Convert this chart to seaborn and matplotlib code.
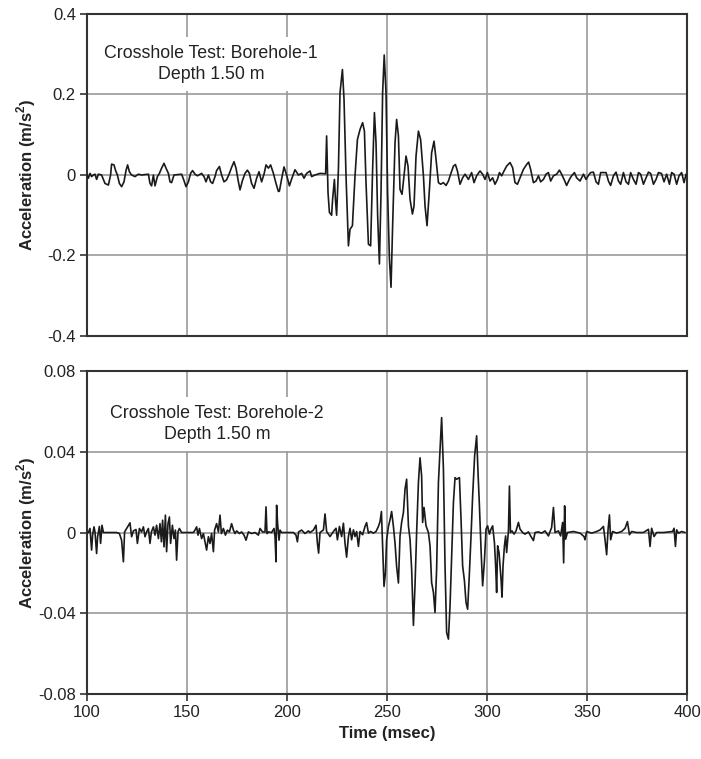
import matplotlib
matplotlib.use('Agg')
import matplotlib.pyplot as plt
import seaborn as sns
from matplotlib.ticker import FuncFormatter

# Borehole-1 trace (time in msec, acceleration in m/s2)
t1 = [100, 100.7, 101.5, 102.3, 103.2, 104, 104.8, 105.7, 107.3, 109, 110.7, 111.8, 112.3, 113.5, 114.3,
      115.2, 116.2, 117.3, 118.5, 119.5, 120.3, 121.2, 122.3, 124, 125.7, 127.3, 130.7, 131.5, 132.3,
      133.2, 134, 135.2, 136.2, 137.3, 138.5, 139.5, 140.7, 141.5, 142.3, 143.5, 147.3, 148.5, 149.5,
      150.7, 151.8, 152.8, 154, 155.2, 157.3, 158.5, 159.5, 160.7, 161.8, 162.8, 164, 164.8, 166.2,
      167.3, 168.5, 169.8, 171.2, 172.3, 173.5, 174.5, 175.7, 176.5, 177.7, 179, 180.2, 181.2, 182.3,
      183.5, 184.8, 186, 187.3, 188.5, 189.5, 190.7, 191.8, 193.2, 194.5, 195.7, 196.2, 197.3, 198.5,
      199.8, 201.2, 202.3, 204, 205.7, 207.3, 208.5, 209.8, 211.5, 212.3, 214, 216.5, 219.3,
      219.8, 220.5, 221.2, 222.3, 222.8, 223.7, 224.2, 224.8, 225.7, 226.5, 227.7, 228.5, 229.5,
      230.7, 231.5, 232.7, 234, 235.2, 236.5, 237.8, 238.7, 239.5, 240.7, 241.8, 242.8, 243.7,
      244.5, 245.3, 246.2, 247, 247.8, 248.6, 249.5, 250.3, 251.2, 252, 252.8, 254, 254.8, 255.7,
      256.5, 257.5, 258.5, 259.5, 260.5, 261.5, 262.7, 263.5, 264.5, 265.7, 266.8, 268.2, 269,
      270, 271.2, 272.3, 273.5, 274.5, 275.7, 276.8, 278.2, 279.5, 280.7, 281.8, 283.2, 284.2,
      285.2, 286.5, 287.8, 289, 290.7, 292.3, 293.5, 294.8, 296.5, 297.8, 299, 300.2, 301.5,
      302.8, 304, 305.2, 306.2, 307.3, 308.5, 309.8, 311.5, 312.8, 314, 315.2, 316.5, 318.2,
      319.8, 320.8, 321.8, 323.2, 324.5, 325.7, 326.8, 328.2, 329.5, 330.7, 331.8, 333.2, 334.8,
      336.2, 337.3, 338.5, 339.8, 341.2, 342.3, 343.7, 344.8, 346.5, 348.2, 349.5, 350.7, 351.8,
      353.2, 354.5, 355.7, 356.8, 358.2, 359.5, 360.7, 361.8, 363.2, 364.5, 365.7, 366.8, 368.2,
      369.5, 370.7, 371.8, 373.2, 374.5, 375.7, 376.8, 378.2, 379.5, 380.7, 381.8, 383.2, 384.5,
      385.7, 387.2, 388.5, 389.8, 391.2, 392.3, 393.5, 394.8, 396, 397.3, 398.5, 399.5]
a1 = [0.0, -0.008, 0.004, -0.004, 0.0, 0.002, -0.011, 0.002, 0.0, -0.021, -0.025, 0.0, 0.027, 0.025,
      0.011, 0.0, -0.021, -0.029, -0.017, 0.011, 0.025, 0.008, 0.0, -0.004, 0.002, 0.0, 0.002, -0.021,
      -0.027, 0.0, -0.027, -0.004, 0.004, 0.017, 0.029, 0.017, 0.004, -0.017, -0.019, 0.0, 0.002,
      -0.014, -0.029, -0.017, 0.004, 0.011, 0.002, -0.002, 0.004, -0.004, -0.017, 0.0, -0.017, -0.021,
      -0.004, 0.011, 0.021, 0.0, -0.017, -0.012, 0.004, 0.019, 0.033, 0.017, -0.017, -0.037, -0.014,
      0.004, 0.012, 0.004, -0.021, -0.033, -0.008, 0.008, -0.017, 0.002, 0.025, 0.017, 0.025, 0.004,
      -0.021, -0.041, -0.040, -0.010, 0.020, 0.0, -0.027, -0.010, 0.013, 0.0, 0.004, -0.008, 0.004,
      0.010, -0.004, 0.0, 0.004, 0.003,
      0.097, -0.044, -0.093, -0.100, -0.060, -0.011, -0.060, -0.100, 0.014, 0.204, 0.262, 0.188, -0.002,
      -0.176, -0.135, -0.126, -0.002, 0.088, 0.113, 0.130, 0.109, -0.019, -0.172, -0.176, 0.014, 0.155,
      0.080, -0.100, -0.221, -0.044, 0.204, 0.298, 0.204, -0.044, -0.209, -0.279, -0.126, 0.080, 0.138,
      0.097, -0.036, -0.048, -0.002, 0.047, 0.022, -0.060, -0.097, -0.077, 0.047, 0.109, 0.088, -0.002,
      -0.077, -0.126, -0.036, 0.055, 0.084, 0.039, -0.019, -0.023, -0.019, -0.026, -0.015, 0.002,
      0.022, 0.026, 0.010, -0.023, -0.007, 0.002, -0.011, 0.006, -0.019, -0.002, 0.010, 0.002, -0.011,
      0.006, -0.015, -0.007, -0.023, -0.011, 0.006, -0.002, 0.010, 0.022, 0.031, 0.018, -0.019, -0.023,
      -0.007, 0.014, 0.026, 0.032, 0.014, -0.019, -0.015, -0.002, -0.017, -0.011, 0.002, 0.006, -0.015,
      -0.002, 0.002, 0.012, 0.002, -0.011, -0.026, -0.011, -0.002, 0.006, -0.007, -0.015, 0.002,
      -0.011, -0.001, 0.006, 0.007, -0.017, -0.023, 0.006, 0.006, 0.006, -0.015, -0.026, -0.002, 0.007,
      -0.015, -0.023, 0.006, -0.017, -0.023, 0.006, -0.011, -0.023, 0.006, 0.002, -0.023, -0.007,
      0.007, 0.004, -0.023, -0.011, 0.006, 0.004, -0.017, 0.002, -0.023, 0.006, 0.002, -0.023, -0.002,
      0.006, -0.019, 0.002]

# Borehole-2 trace
t2 = [100, 100.7, 101.5, 102.3, 102.8, 103.5, 104, 104.8, 105.3, 106.2, 106.8, 107.5, 108.2, 114.8,
      116.2, 117.3, 118.2, 118.8, 119.8, 120.7, 121.5, 122.3, 123.2, 124.5, 125.2, 126.2, 127.3,
      128.2, 129, 129.8, 130.7, 131.5, 132.2, 133.2, 134, 134.8, 135.7, 136.5, 137.2, 137.8, 138.5,
      139.2, 139.8, 140.5, 141.2, 141.8, 142.7, 143.5, 144.2, 144.8, 145.5, 146.2, 147.3, 153.2,
      154, 154.8, 155.5, 156.2, 157.3, 158.2, 159, 159.8, 160.7, 161.5, 162.3, 163.2, 163.8, 164.8,
      165.7, 166.5, 167.2, 168.2, 169.2, 170.2, 171.2, 172.3, 173.2, 174, 174.8, 176.2, 177.3, 178.5,
      179.5, 180.7, 182.3, 184, 185.7, 186.5, 187.8, 189, 189.5, 190, 190.7, 192.3, 193.5, 194,
      194.5, 194.8, 195.3, 196, 196.5, 197.3, 203.2, 204.5, 205.2, 205.8, 207.3, 209, 210.7, 211.5,
      213.2, 214.5, 215.2, 215.8, 216.5, 218.2, 219, 219.8, 221.5, 223.2, 224.5, 225.2, 226.2,
      227.3, 228.2, 229, 229.8, 230.7, 231.5, 232.3, 233.2, 234, 234.8, 235.7, 236.5, 237.8, 239,
      239.8, 240.7, 241.8, 243.2, 244.5, 245.7, 246.5, 247.2, 247.8, 248.5, 249.2, 249.8, 250.7,
      251.5, 252.3, 253.2, 254, 254.8, 255.7, 256.5, 257.3, 258.2, 259, 259.8, 260.7, 261.5, 262.3,
      263.2, 264, 264.8, 265.7, 266.5, 267.3, 267.8, 268.5, 269.5, 270.7, 271.5, 272.3, 273.2, 274,
      274.8, 275.7, 276.5, 277.3, 278.2, 279, 279.8, 280.7, 281.5, 282.3, 283.2, 284, 284.8, 286.2,
      287, 287.8, 288.7, 289.5, 290.3, 291.2, 292, 292.8, 293.8, 294.8, 295.5, 296.2, 297, 297.8,
      298.7, 299.5, 300.3, 301.2, 302, 302.8, 303.7, 304.3, 304.8, 305.3, 306, 306.5, 307, 307.5,
      308, 308.7, 309.3, 309.8, 310.7, 311.2, 311.7, 312.5, 313.5, 314.5, 315.7, 316.5, 317.8, 319,
      320.7, 321.8, 323.2, 324, 325.7, 327.3, 329, 330.7, 332.3, 333.2, 334, 335.7, 336.8, 337.8,
      338.3, 338.8, 339.3, 340.2, 343.2, 346.5, 348.5, 349, 349.8, 352.3, 354.8, 356.5, 358.2, 359,
      359.8, 360.5, 361.2, 361.8, 362.8, 364.8, 367.3, 369, 370.2, 371.2, 372.3, 374.8, 378.2, 380.7,
      381.5, 382.3, 383.5, 384.8, 388.2, 392.8, 393.5, 394.2, 394.8, 395.7, 397.3, 399]
a2 = [0.0, 0.0, 0.002, -0.0087, -0.0013, 0.0028, 0.0003, -0.0104, -0.0021, 0.003, -0.0054, 0.0036,
      0.0, 0.0, -0.0005, -0.0038, -0.0145, 0.0003, 0.002, 0.0036, 0.0048, -0.0021, 0.0008, 0.0015,
      -0.0054, 0.002, 0.0003, 0.0028, -0.0021, 0.0003, 0.002, -0.0054, 0.0003, 0.0028, -0.0013, 0.0036,
      -0.003, 0.0044, -0.0046, 0.0061, -0.0071, 0.0086, -0.0095, 0.0044, 0.0077, -0.0054, 0.0036,
      -0.003, 0.0012, -0.0137, 0.0003, 0.002, 0.0, 0.0, 0.0012, 0.0028, -0.0013, 0.002, -0.003,
      -0.0005, -0.0046, -0.0087, -0.0021, -0.0054, -0.0005, -0.0095, 0.0012, 0.0044, 0.0003, 0.0086,
      -0.0005, 0.002, -0.0013, 0.0012, 0.0003, 0.0044, 0.0012, -0.0005, 0.0008, -0.0005, 0.0003,
      -0.0013, -0.0038, 0.0003, -0.0005, 0.0, -0.0013, 0.002, 0.0003, 0.0003, 0.0127, -0.0005, 0.0003,
      0.0, 0.002, -0.0021, -0.0145, 0.0135, 0.0044, -0.0038, 0.0012, 0.0, 0.0, -0.0013, -0.0046,
      0.0003, 0.0012, -0.0005, 0.0008, 0.0, 0.0012, 0.0036, -0.0054, -0.0102, 0.0, 0.0013, 0.0092,
      0.0005, -0.002, 0.0005, 0.0021, -0.0036, 0.003, -0.002, 0.0046, -0.0053, -0.0122, -0.002, 0.0021,
      -0.0036, 0.0013, -0.002, 0.0005, -0.0069, 0.0005, -0.0011, 0.003, 0.0049, -0.0003, 0.0005,
      -0.0003, 0.0005, 0.003, 0.0054, 0.0104, -0.0069, -0.0267, -0.020, -0.0036, 0.003, 0.0063, 0.0104,
      0.003, -0.0053, -0.0168, -0.025, -0.0017, 0.005, 0.0099, 0.0215, 0.0264, 0.0033, -0.0033,
      -0.018, -0.046, -0.026, 0.0, 0.0248, 0.037, 0.028, 0.005, 0.0124, 0.0033, 0.0, -0.0066, -0.0248,
      -0.0297, -0.0396, -0.018, 0.0248, 0.0413, 0.0569, 0.0314, -0.0165, -0.0495, -0.0528, -0.0363,
      -0.0116, 0.0149, 0.0272, 0.0264, 0.0272, 0.0066, -0.0165, -0.0239, -0.0347, -0.038, -0.0198,
      -0.0017, 0.018, 0.038, 0.0479, 0.0297, 0.0132, -0.0083, -0.0264, -0.014, 0.0017, 0.0033,
      -0.0008, 0.0017, 0.0033, -0.005, -0.0165, -0.0297, -0.0066, -0.0099, -0.0165, -0.023, -0.032,
      -0.0165, -0.0066, -0.0017, -0.0099, 0.0008, 0.023, 0.0, 0.0008, -0.0008, 0.0008, 0.005, 0.0017,
      0.0, -0.0008, 0.0003, -0.0017, -0.004, 0.0, 0.0003, -0.0003, 0.0008, -0.0017, 0.0025, 0.0124,
      0.0, 0.0008, -0.0017, 0.005, -0.015, 0.0132, -0.0033, 0.0, 0.0005, -0.0003, -0.002, -0.0036,
      0.0005, -0.0003, 0.0005, 0.0013, 0.003, -0.0036, -0.011, 0.0013, 0.0087, -0.0036, 0.0005,
      -0.0003, 0.0005, 0.0021, 0.0054, -0.0011, 0.0005, 0.0, 0.0, 0.0016, -0.0069, 0.0021, -0.002,
      0.0, 0.0, 0.0005, 0.0021, -0.0069, 0.0013, -0.0003, 0.0005, 0.0]

panels = [
    (t1, a1, [-0.4, -0.2, 0, 0.2, 0.4], 'Crosshole Test: Borehole-1\nDepth 1.50 m', 0.207, 0.845),
    (t2, a2, [-0.08, -0.04, 0, 0.04, 0.08], 'Crosshole Test: Borehole-2\nDepth 1.50 m', 0.217, 0.836),
]

sns.set_style('white')
plt.rcParams['font.family'] = ['Liberation Sans', 'DejaVu Sans']
plt.rcParams['axes.unicode_minus'] = False
plt.rcParams['mathtext.fontset'] = 'custom'
plt.rcParams['mathtext.rm'] = 'Liberation Sans'
plt.rcParams['mathtext.bf'] = 'Liberation Sans:bold'

fig = plt.figure(figsize=(7.01, 7.59), dpi=100)
ax_top = fig.add_axes([0.1241, 0.5573, 0.856, 0.4243])
ax_bot = fig.add_axes([0.1241, 0.0856, 0.856, 0.4256])

for ax, (t, a, yt, label, tx, ty) in zip([ax_top, ax_bot], panels):
    sns.lineplot(x=t, y=a, ax=ax, sort=False, estimator=None, color='#1a1a1a', lw=1.2, zorder=3)
    ax.set_xlim(100, 400)
    ax.set_ylim(yt[0], yt[-1])
    ax.set_xticks(range(100, 401, 50))
    ax.set_yticks(yt)
    ax.yaxis.set_major_formatter(FuncFormatter(lambda v, p: f'{v:g}'))
    ax.grid(True, color='#9a9a9a', lw=1.2)
    ax.set_axisbelow(True)
    for s in ax.spines.values():
        s.set_color('#333333')
        s.set_linewidth(1.5)
    ax.tick_params(axis='both', direction='out', length=5, width=1.2, color='#333333',
                   labelsize=12, labelcolor='#222222', left=True, bottom=True, pad=3)
    ax.set_ylabel(r'Acceleration (m/s$^{\mathbf{2}}$)', fontsize=12, fontweight='bold', color='#222222')
    ax.yaxis.set_label_coords(-0.082, 0.5)
    ax.text(tx, ty, label, transform=ax.transAxes, ha='center', va='center', fontsize=12.8,
            color='#222222', linespacing=1.35, zorder=4,
            bbox=dict(boxstyle='square,pad=0.45', facecolor='white', edgecolor='none'))

ax_top.tick_params(axis='x', length=0, labelbottom=False)
ax_bot.set_xlabel('Time (msec)', fontsize=12, fontweight='bold', color='#222222', labelpad=4)

fig.savefig('out.png', dpi=100)
